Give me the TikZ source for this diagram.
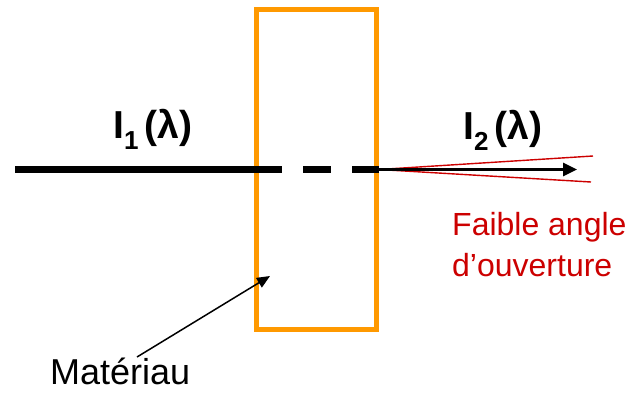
\documentclass[tikz,border=0pt]{standalone}
\usepackage{fontspec}
\setmainfont{Liberation Sans}
\definecolor{frame}{RGB}{255,153,0}
\definecolor{cone}{RGB}{204,0,0}
\usetikzlibrary{positioning,arrows.meta}

\begin{document}
\begin{tikzpicture}[x=1pt,y=-1pt,
    beam/.style={line width=7pt,black},
    intensity/.style={font=\fontsize{39}{39}\selectfont\bfseries,inner sep=0pt},
    note/.style={font=\fontsize{32}{41}\selectfont,inner sep=0pt,align=left}]
    \useasboundingbox (0,0) rectangle (632,392);

    % Material block
    \node[draw=frame,line width=5pt,minimum width=120pt,minimum height=320pt,inner sep=0pt] (mat) at (316.5,169.5) {};

    % Incident and transmitted beams
    \coordinate (src) at (15,169.5);
    \coordinate (tip) at (577,169.5);
    \draw[beam] (src) -- (mat.west);
    \draw[beam,dash pattern=on 28pt off 21pt] (mat.west) -- (mat.east);
    \draw[cone,line width=1.4pt] (593,156) coordinate (conetop) -- (mat.east) -- (591,182) coordinate (conebot);
    \draw[line width=3pt,-{Triangle[length=14pt,width=13pt]}] (mat.east) -- (tip);

    % Labels
    \node[intensity,anchor=base west] (I1) at (113,138) {I\raisebox{-11pt}{\fontsize{26}{26}\selectfont 1}\hspace{6pt}(λ)};
    \node[intensity,anchor=base west] (I2) at (463,139) {I\raisebox{-11pt}{\fontsize{26}{26}\selectfont 2}\hspace{6pt}(λ)};
    \node[note,text=cone,anchor=base west] (angle) at (452,276) {Faible angle\\d’ouverture};
    \node[note,anchor=base west,font=\fontsize{36}{36}\selectfont] (lbl) at (50,384) {Matériau};

    \coordinate (callout) at (137,357);
    \coordinate (hit) at (270,276);
    \draw[line width=1.5pt,-{Triangle[length=13pt,width=11pt]}] (callout) -- (hit);
\end{tikzpicture}
\end{document}
